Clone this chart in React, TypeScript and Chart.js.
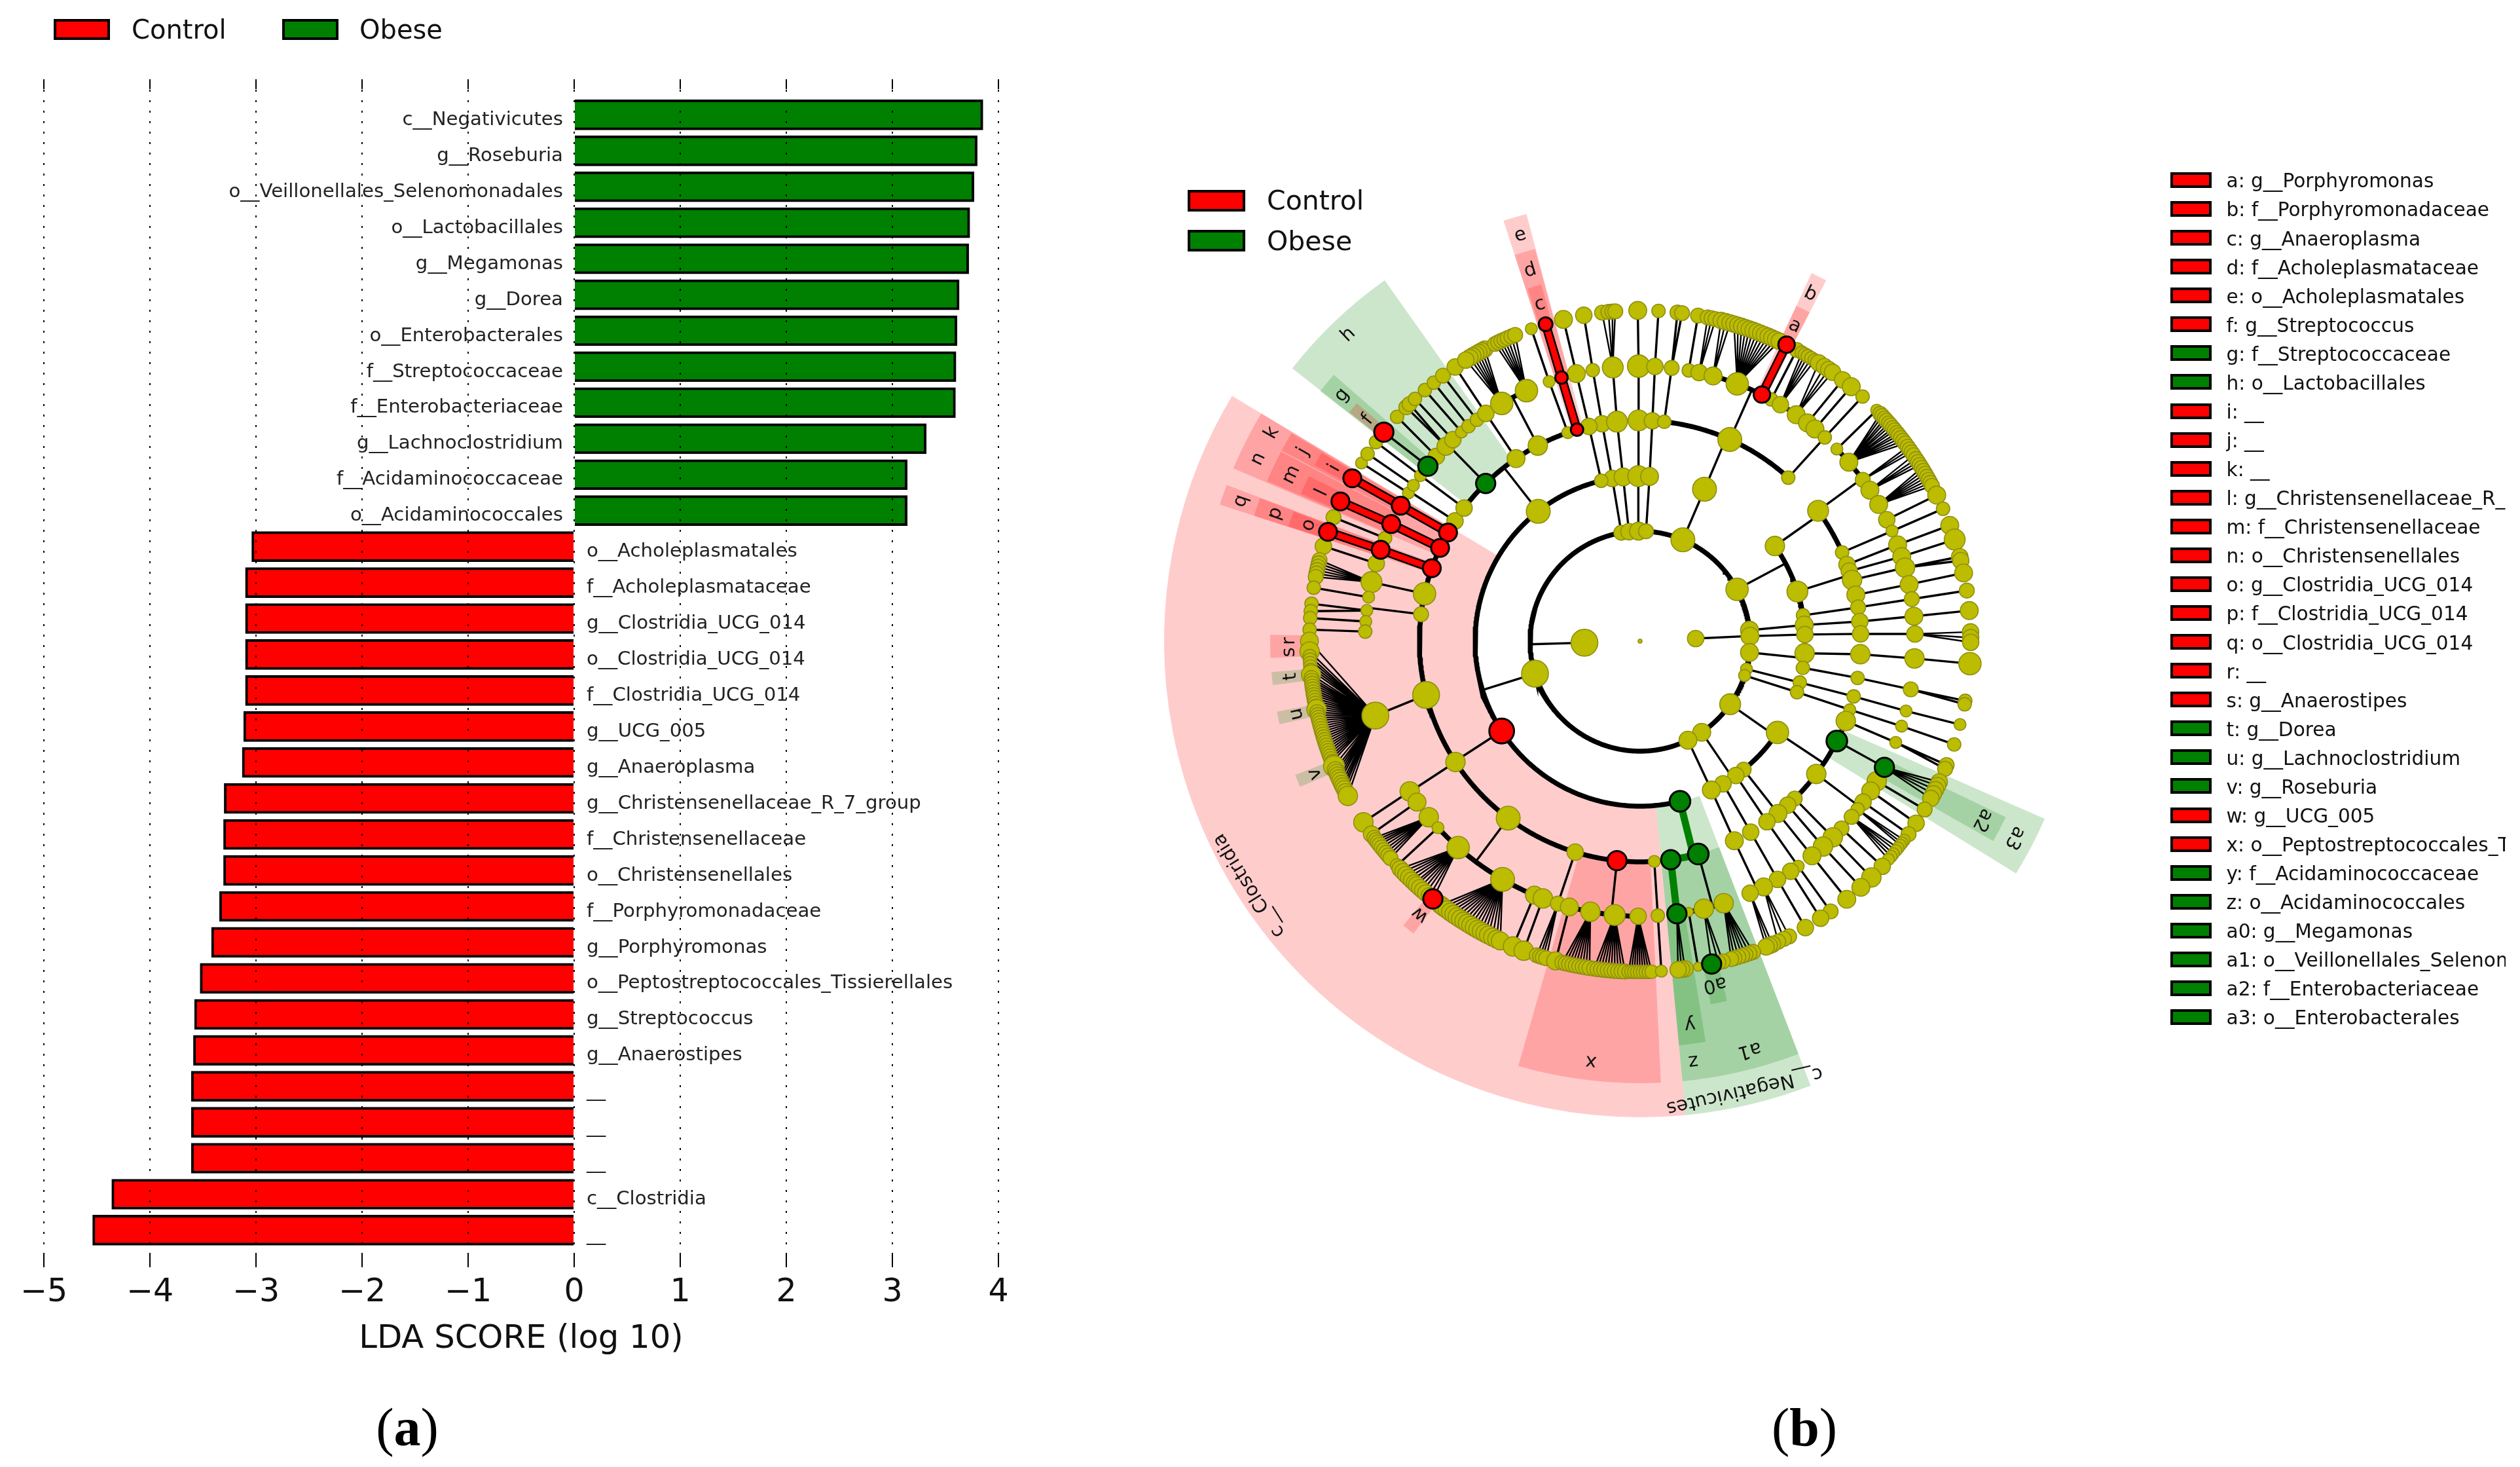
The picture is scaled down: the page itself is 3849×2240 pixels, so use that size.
import React, { useEffect, useRef } from "react";
import { Chart, registerables } from "chart.js";

Chart.register(...registerables);

// ---------- panel (a): LDA scores ----------
const obeseTaxa = ["c__Negativicutes","g__Roseburia","o__Veillonellales_Selenomonadales","o__Lactobacillales","g__Megamonas","g__Dorea","o__Enterobacterales","f__Streptococcaceae","f__Enterobacteriaceae","g__Lachnoclostridium","f__Acidaminococcaceae","o__Acidaminococcales"];
const obeseScores = [3.854,3.80,3.77,3.73,3.72,3.63,3.61,3.60,3.595,3.32,3.14,3.14];
const controlTaxa = ["o__Acholeplasmatales","f__Acholeplasmataceae","g__Clostridia_UCG_014","o__Clostridia_UCG_014","f__Clostridia_UCG_014","g__UCG_005","g__Anaeroplasma","g__Christensenellaceae_R_7_group","f__Christensenellaceae","o__Christensenellales","f__Porphyromonadaceae","g__Porphyromonas","o__Peptostreptococcales_Tissierellales","g__Streptococcus","g__Anaerostipes","__","__","__","c__Clostridia","__"];
const controlScores = [-3.04,-3.10,-3.10,-3.10,-3.10,-3.117,-3.13,-3.30,-3.306,-3.306,-3.344,-3.42,-3.527,-3.58,-3.59,-3.61,-3.61,-3.61,-4.36,-4.54];

// ---------- panel (b): legend keys ----------
const CONTROL = "Control";
const OBESE = "Obese";
const cladeKeys: [string, string][] = [
  ["a: g__Porphyromonas",CONTROL],["b: f__Porphyromonadaceae",CONTROL],["c: g__Anaeroplasma",CONTROL],["d: f__Acholeplasmataceae",CONTROL],["e: o__Acholeplasmatales",CONTROL],["f: g__Streptococcus",CONTROL],["g: f__Streptococcaceae",OBESE],["h: o__Lactobacillales",OBESE],["i: __",CONTROL],["j: __",CONTROL],["k: __",CONTROL],["l: g__Christensenellaceae_R_7_group",CONTROL],["m: f__Christensenellaceae",CONTROL],["n: o__Christensenellales",CONTROL],["o: g__Clostridia_UCG_014",CONTROL],["p: f__Clostridia_UCG_014",CONTROL],["q: o__Clostridia_UCG_014",CONTROL],["r: __",CONTROL],["s: g__Anaerostipes",CONTROL],["t: g__Dorea",OBESE],["u: g__Lachnoclostridium",OBESE],["v: g__Roseburia",OBESE],["w: g__UCG_005",CONTROL],["x: o__Peptostreptococcales_Tissierellales",CONTROL],["y: f__Acidaminococcaceae",OBESE],["z: o__Acidaminococcales",OBESE],["a0: g__Megamonas",OBESE],["a1: o__Veillonellales_Selenomonadales",OBESE],["a2: f__Enterobacteriaceae",OBESE],["a3: o__Enterobacterales",OBESE],
];

// clade shading: label, group, angle from, angle to (class entries also carry a label angle)
const classShades: [string,string,number,number,number][] = [
  ["c__Clostridia",CONTROL,149,275.5,212],
  ["c__Negativicutes",OBESE,275.5,291,283.1],
];
const orderShades: [string,string,number,number][] = [
  ["h",OBESE,125.3,141.9],["e",CONTROL,104.9,108],["k",CONTROL,149,152],["n",CONTROL,152,157],["q",CONTROL,159.3,162],["x",CONTROL,254,272.7],["z",OBESE,275.5,279],["a1",OBESE,279,291],["a3",OBESE,-31.7,-23.7],
];
const familyShades: [string,string,number,number][] = [
  ["b",CONTROL,62.7,65],["d",CONTROL,105,108],["g",OBESE,139,142],["j",CONTROL,149.2,152],["m",CONTROL,152.2,156.8],["p",CONTROL,159.4,162],["y",OBESE,275.5,279.3],["a2",OBESE,-29.5,-25.7],
];
const genusShades: [string,string,number,number][] = [
  ["a",CONTROL,62.7,65],["c",CONTROL,105.5,107.7],["f",CONTROL,140,141.8],["i",CONTROL,149.4,151.6],["l",CONTROL,153.5,156.5],["o",CONTROL,159.5,161.9],["r",CONTROL,179,181],["s",CONTROL,181,182.6],["t",OBESE,184.8,186.8],["u",OBESE,191,193],["v",OBESE,201.2,203.2],["w",CONTROL,230.2,232.2],["a0",OBESE,281,283.6],
];

// ---------- panel (b): taxonomy tree, [angle, node size, children, group, highlighted edge] ----------
type T = [number, number, T[]?, string?, string?];
const ls = (s: number, ...a: number[]): T[] => a.map((x) => [x, s] as T);
const ch = (a: number[], s: number[], tail?: T[], g?: string, hi?: boolean): T => {
  let kids = tail;
  for (let i = a.length - 1; i >= 0; i--) kids = [[a[i], s[i], kids, g, hi && i > 0 ? g : undefined]];
  return kids![0];
};

const proteoLike: T[] = [
  ch([-4.2,-3.4,-3.6,-3.9],[13,13,13,15]),
];
const lowerRightOrders: T[] = [
  ch([-21.2,-21.6],[13,8],ls(10,-22,-22.7)),
  [-26.9,15,[ch([-27.3],[14],ls(11,-25.2,-25.9,-26.7,-27.5,-28.4),OBESE)],OBESE],
  [-37,13,[
    ch([-30.6,-30.6],[13,10]),ch([-33,-33.4],[12,11]),ch([-35.8,-35.7],[11,10]),
    [-37.7,9,ls(8,-37,-37.6,-38.1)],[-39.7,10,ls(8,-38.7,-39.3,-40,-40.6,-41.3)],ch([-42.9,-42.9],[10,11]),
  ]],
  ch([-45.5,-45.5,-45.6],[10,13,13]),
  ch([-48,-48.3,-48.1],[11,13,12]),
];
const lowerRightClasses: T[] = [
  [-33.6,15,lowerRightOrders],
  ch([-51.1,-51.3,-51.3,-51.3],[10,12,12,12]),
];
const lowerBandClasses: T[] = [
  ch([-54.5,-54.9],[11,11],[ch([-54.9,-54.8],[8,10]),ch([-56.8,-56.9],[11,11])]),
  ch([-59.8,-59.9,-60,-60],[11,11,11,11]),
];

const phylumARight: T[] = [
  ch([99.8,99.7,99.9,99.9,99.8],[10,11,11,9,11]),
  ch([95.8,95.9,96,95.7],[11,12,14,14],ls(10,96.6,95.5,94.8,94.3)),
  ch([90.8,90.6,90.4,90.3,90.4],[12,14,14,15,12]),
  ch([86.9,86.7,86.8,86.9,86.8],[10,12,11,11,9]),
  [67.1,16,[[67,16,[
    ch([83.7,83.4],[9,10],ls(10,83.5,82.7)),
    [66,16,[
      ch([79.8,79.9],[9,10]),
      [77.6,11,ls(10,78.2,77.5,76.8)],
      [74.6,12,ls(11,75.8,75,74.2)],
      [69.3,15,ls(11,73.5,72.8,72.1,71.4,70.7,70,69.3,68.6,67.9,67.2,66.5,65.8,65.1)],
      ch([63.7,63.7],[12,12],undefined,CONTROL,true),
      ch([61.5,61.7],[9,10]),
      [59.3,11,ls(9,60.7,60.1,59.5,58.8,58.1)],
      [55.4,12,ls(11,57.3,56.1,55.2,54.4)],
      ch([52.5,52.2],[12,11]),
      ch([50.5,50.3],[12,12]),
    ]],
    ch([47.8,47.8,47.7],[9,9,9]),
  ]]]],
  [28.1,15,[
    [35.2,13,[[36.2,14,[
      ch([44.3],[8],ls(8,44.3)),
      [40.6,12,ls(10,43.4,42.9,42.3,41.8,41.2,40.7,40.1,39.6,39,38.5,37.9,37.3,36.7)],
      [35.9,10,ls(10,36,35.4,34.8)],
      [33.3,12,ls(10,34.2,33.4,32.8,32.2)],
      [29.8,12,ls(10,31.6,31,30.4,29.8,29.2,28.6,28)],
      ch([26.2,26.2],[11,12]),
    ]],
    ch([23.7,23.6,23.6],[9,8,9]),
    ]],
    [17.5,14,[
      ch([20.3,20.5,20.5],[11,12,12]),
      ch([18.5,17.9,17.9],[11,12,14]),
      ch([16.1,15.5],[13,13],ls(11,14.8,14.1)),
      ch([12.1,11.9,11.9],[12,12,12]),
    ]],
    ch([9,8.8,8.8,8.8],[9,10,10,10]),
  ]],
  ch([5.7,5.6,5.1,5.2,5.3],[12,12,11,12,12]),
  ch([2.6,2.3,1.9,1.5],[12,11,11,11],[[1.6,11],[0.6,11],[-0.2,11]]),
  [-5.9,12,[...proteoLike,
    ch([-9.3],[9],[ch([-9.6,-10.1],[9,10],ls(9,-10.4,-11))]),
  ]],
  ch([-14.7,-14.5,-14.5,-14.7,-14.6],[8,9,9,8,8]),
  ch([-18.2,-18,-18.1,-18,-18.2],[8,9,8,8,9]),
  [-35,14,lowerRightClasses],
  [-55.9,12,lowerBandClasses],
  ch([-64.2,-64.4,-64.7],[12,12,12],[ [-63.3,12,ls(10,-63.2,-64.2,-65.3)], [-66.4,11,ls(11,-66.4,-67,-67.6)] ]),
];

const upperLeftOrders: T[] = [
  [147,11,[ch([147.4,147.4],[8,8]),ch([145.5,145.5],[8,9])]],
  ch([142.9,143,143],[11,8,9]),
  [134.4,14,[
    [140.5,14,[[140.8,14,undefined,CONTROL]],OBESE],
    ch([137.8,137.3],[11,9]),[134.9,12,ls(10,135,134.2)],ch([132.9,132.9],[11,9]),ch([130.5,130.6],[8,9]),ch([128.6,128.6],[9,9]),ch([126.4,126.6],[9,10]),
  ],OBESE],
  ch([124.2,124.1,124],[12,11,11]),
  [117.6,13,[
    [120.2,15,ls(11,118,118.6,119.2,119.8,120.4,121,121.8)],
    [114.4,15,ls(10,116,115.4,114.8,114.2,113.6,112.9,112.2)],
  ]],
  ch([109.1,109.3,109.2],[8,8,8]),
  ch([106.6,106.6,106.6],[9,9,10],undefined,CONTROL,true),
];
const denseFan: T[] = [
  ...ls(12,180),...ls(13,181.8),
  ...ls(9,182.6,183.2,183.8,184.4,185),...ls(13,185.8),...ls(10,186.4,186.9,187.4,187.9,188.4,188.9,189.4,189.9,190.4,190.9,191.4),...ls(13,191.9),
  ...ls(10,192.4,192.9,193.4,193.9,194.4,194.9,195.4,195.9,196.4,196.9,197.4,197.9,198.4,198.9,199.4,199.9,200.4,200.9,201.4),...ls(14,202.2),
  ...ls(11,202.9,203.4,203.9,204.4,204.9,205.5,206,206.5,207.1),...ls(13,207.9),
];
const clostridiaOrders: T[] = [
  ch([150.5,150.5,150.5],[13,13,13],undefined,CONTROL,true),
  ch([155,154.8,155],[13,13,13],undefined,CONTROL,true),
  ch([160.7,160.6,160.7],[13,13,13],undefined,CONTROL,true),
  [167.6,15,[
    ch([158,158],[9,10]),ch([163.6,163.3],[11,11]),
    [167.6,14,ls(10,165.8,166.4,167,167.6,168.2,168.8)],ch([170.8,170.7],[8,9]),
  ]],
  [173,10,[[173.6,8,ls(9,173.5,174.8)],ch([175.9,176],[8,9]),ch([178,178],[9,9])]],
  [194.1,18,[[195.7,18,denseFan]]],
  [213.2,13,[ch([213.1,213.2],[13,13]),ch([215.8,215.7],[12,11])]],
  [233.3,16,[
    [219.8,13,ls(10,216.5,217,217.5,218,218.6,219.2,219.8,220.4,221)],
    ch([222.7,222.7],[8,9]),
    [228.6,15,[...ls(11,223.5,224.2,224.9,225.6,226.3,227,227.5,228.2,228.9,229.6,230.4),[231.2,14,undefined,CONTROL]]],
    [240,16,ls(12,232.9,233.6,234.3,235,235.7,236.4,237.1,237.8,238.5,239.2,239.9,240.6,241.3,242,242.7,243.5,244.3,245)],
    ch([247.4,247.4],[12,13]),ch([249.3,249.4],[13,13]),
  ]],
  [252.9,11,[[252.6,10,ls(10,251.8,252.4,252.9,253.5)]]],
  [264,14,[
    ch([255.1,255.2],[12,12]),
    [259.6,13,ls(10,256.4,257,257.6,258.2,258.8,259.4,260,260.6,261.2)],
    [264.7,14,ls(10,262,262.6,263.2,263.8,264.4,265,265.6,266.2,266.8,267.4)],
    [269.6,11,ls(9,268,268.5,269,269.5,270,270.5,271,271.5,272)],
  ],CONTROL],
  ch([273.7,273.7,273.7],[8,9,8]),
];
const negativicutesOrders: T[] = [
  [278,14,[[277.7,14,ls(11,277.8,277.2,276.6),OBESE,OBESE]],OBESE,OBESE],
  [285.3,15,[
    [287.7,13,ls(10,290,289.3,288.6,288,287.3,286.6,286)],
    [283.4,13,[[284.5,10],[283.7,10],[282.5,14,undefined,OBESE]]],
    ch([280.2,280.1],[6,6]),
  ],OBESE,OBESE],
];
const phylumBClasses: T[] = [
  ch([103.6,103.4,103.4,103.4],[9,11,12,12]),
  [128.1,16,upperLeftOrders],
  [213,18,clostridiaOrders,CONTROL],
  [284,15,negativicutesOrders,OBESE],
];
const phyla: T[] = [
  [2.7,11,phylumARight],
  [181.6,18,[[197.2,18,phylumBClasses]]],
];
// further stretches of the thick rings: depth, angle from, angle to
const ringArcs: [number,number,number][] = [[2,99.8,295.8],[3,17.5,2.6]];

const ringRadius = [0,85,168,252,337,420,505];
const RED = "#ff0000", GREEN = "#008000", YEL = "#bcbc00";
const colorOf = (g?: string) => (g === CONTROL ? RED : g === OBESE ? GREEN : YEL);
const polar = (r: number, deg: number) => {
  const t = (deg * Math.PI) / 180;
  return { x: r * Math.cos(t), y: r * Math.sin(t) };
};
const GAP = { x: NaN, y: NaN };

function buildCladogram() {
  const thin: any[] = [], fan: any[] = [], arcs: any[] = [], hiR: any[] = [], hiG: any[] = [];
  const yellow: any[] = [{ ...polar(0, 0), r: 3, c: YEL }], marked: any[] = [];
  const arc = (out: any[], r: number, a0: number, a1: number) => {
    const lo = Math.min(a0, a1), hi = Math.max(a0, a1), n = Math.max(1, Math.ceil((hi - lo) / 0.5));
    for (let i = 0; i <= n; i++) out.push(polar(r, lo + ((hi - lo) * i) / n));
    out.push(GAP);
  };
  const walk = (n: T, depth: number) => {
    const [a, s, kids, g] = n;
    const p = polar(ringRadius[depth], a);
    (g ? marked : yellow).push({ ...p, r: s * (g ? 1.05 : 1.14), c: colorOf(g) });
    if (!kids) return;
    const useArc = depth <= 4 && (kids.length > 1 || depth === 1);
    if (useArc) {
      const angs = kids.map((k) => k[0]);
      const rc = ringRadius[depth + 1];
      const allHi = kids.every((k) => k[4]);
      const tgt = allHi ? (kids[0][4] === CONTROL ? hiR : hiG) : arcs;
      arc(tgt, rc, Math.min(...angs), Math.max(...angs));
      (allHi ? tgt : thin).push(p, polar(rc, a), GAP);
    } else {
      for (const k of kids) {
        const q = polar(ringRadius[depth + 1], k[0]);
        const tgt = k[4] ? (k[4] === CONTROL ? hiR : hiG) : depth >= 5 && kids.length > 2 ? fan : thin;
        tgt.push(p, q, GAP);
      }
    }
    kids.forEach((k) => walk(k, depth + 1));
  };
  phyla.forEach((n) => walk(n, 1));
  ringArcs.forEach(([d, a0, a1]) => arc(arcs, ringRadius[d], a0, a1));
  return { thin, fan, arcs, hiR, hiG, yellow, marked };
}

const sectorPlugin = {
  id: "sectors",
  beforeDatasetsDraw(chart: any) {
    const { ctx, scales } = chart;
    const cx = scales.x.getPixelForValue(0), cy = scales.y.getPixelForValue(0);
    const k = scales.x.getPixelForValue(1) - cx;
    const band = (g: string, r0: number, r1: number, a0: number, a1: number) => {
      ctx.beginPath();
      ctx.arc(cx, cy, r1 * k, (-a1 * Math.PI) / 180, (-a0 * Math.PI) / 180);
      ctx.arc(cx, cy, r0 * k, (-a0 * Math.PI) / 180, (-a1 * Math.PI) / 180, true);
      ctx.closePath();
      ctx.fillStyle = g === CONTROL ? "rgba(255,0,0,0.2)" : "rgba(0,128,0,0.2)";
      ctx.fill();
    };
    classShades.forEach(([, g, a0, a1]) => band(g, 253, 727, a0, a1));
    orderShades.forEach(([, g, a0, a1]) => band(g, 337, 675, a0, a1));
    familyShades.forEach(([, g, a0, a1]) => band(g, 420, 620, a0, a1));
    genusShades.forEach(([, g, a0, a1]) => band(g, 505, 565, a0, a1));
  },
  afterDatasetsDraw(chart: any) {
    const { ctx, scales } = chart;
    const cx = scales.x.getPixelForValue(0), cy = scales.y.getPixelForValue(0);
    const k = scales.x.getPixelForValue(1) - cx;
    const put = (txt: string, r: number, a: number) => {
      const t = (a * Math.PI) / 180;
      ctx.save();
      ctx.translate(cx + r * k * Math.cos(t), cy - r * k * Math.sin(t));
      ctx.rotate(((90 - a) * Math.PI) / 180);
      ctx.font = '29px "DejaVu Sans"';
      ctx.fillStyle = "#111";
      ctx.textAlign = "center";
      ctx.textBaseline = "middle";
      ctx.fillText(txt, 0, 0);
      ctx.restore();
    };
    classShades.forEach(([l, , , , la]) => put(l, 704, la));
    orderShades.forEach(([l, , a0, a1]) => put(l, 646, (a0 + a1) / 2));
    familyShades.forEach(([l, , a0, a1]) => put(l, 590, (a0 + a1) / 2));
    genusShades.forEach(([l, , a0, a1]) => put(l, 536, (a0 + a1) / 2));
  },
};

const barDecor = {
  id: "barDecor",
  afterDraw(chart: any) {
    const { ctx, scales, chartArea } = chart;
    ctx.save();
    ctx.strokeStyle = "#000";
    ctx.lineWidth = 2;
    scales.x.ticks.forEach((t: any) => {
      const x = scales.x.getPixelForValue(t.value);
      ctx.beginPath();
      ctx.moveTo(x, chartArea.top);
      ctx.lineTo(x, chartArea.top + 15);
      ctx.moveTo(x, chartArea.bottom);
      ctx.lineTo(x, chartArea.bottom - 22);
      ctx.stroke();
    });
    ctx.font = '29.2px "DejaVu Sans"';
    ctx.fillStyle = "#222";
    ctx.textBaseline = "middle";
    const x0 = scales.x.getPixelForValue(0);
    ctx.textAlign = "right";
    obeseTaxa.forEach((l, i) => ctx.fillText(l, x0 - 17, scales.y.getPixelForValue(i) + 8));
    ctx.textAlign = "left";
    controlTaxa.forEach((l, i) => ctx.fillText(l, x0 + 19, scales.y.getPixelForValue(i + obeseTaxa.length) + 8));
    ctx.restore();
  },
};

const swatch = (left: number, top: number, w: number, h: number, color: string, bw = 4): React.CSSProperties => ({
  position: "absolute", left, top, width: w, height: h, background: color, border: `${bw}px solid #000`, boxSizing: "border-box",
});
const label = (left: number, cy: number, size: number): React.CSSProperties => ({
  position: "absolute", left, top: cy - size, lineHeight: `${size * 2}px`, fontSize: size, fontFamily: '"DejaVu Sans"', color: "#111", whiteSpace: "nowrap",
});

export default function App() {
  const barRef = useRef<HTMLCanvasElement>(null);
  const cladeRef = useRef<HTMLCanvasElement>(null);

  useEffect(() => {
    const bars = new Chart(barRef.current!, {
      type: "bar",
      data: {
        datasets: [
          { label: OBESE, data: obeseScores.map((v, i) => ({ x: v, y: i })), backgroundColor: GREEN, borderColor: "#000", borderWidth: 4, barThickness: 46, grouped: false } as any,
          { label: CONTROL, data: controlScores.map((v, i) => ({ x: v, y: i + obeseScores.length })), backgroundColor: RED, borderColor: "#000", borderWidth: 4, barThickness: 46, grouped: false } as any,
        ],
      },
      options: {
        indexAxis: "y",
        responsive: false,
        animation: false,
        devicePixelRatio: 1,
        layout: { autoPadding: false, padding: { left: 67, right: 115, top: 121, bottom: 165 } },
        plugins: { legend: { display: false }, tooltip: { enabled: false } },
        scales: {
          x: {
            type: "linear", min: -5, max: 4,
            ticks: { stepSize: 1, padding: 10, color: "#111", font: { size: 49, family: '"DejaVu Sans"' }, callback: (v: any) => (v < 0 ? "\u2212" + -v : String(v)), maxRotation: 0 },
            grid: { color: "#000", lineWidth: 2, z: 1, drawTicks: false },
            border: { display: false, dash: [3, 13] },
            title: { display: true, text: "LDA SCORE (log 10)", color: "#111", font: { size: 49.7, family: '"DejaVu Sans"' }, padding: { top: 0, bottom: 0 } },
            afterFit: (s: any) => { s.height = 140; },
          },
          y: { type: "linear", reverse: true, offset: false, min: -0.99, max: 32.03, display: false },
        },
      } as any,
      plugins: [barDecor],
    });

    const d = buildCladogram();
    const lineSet = (data: any[], w: number, color: string, order: number) => ({
      type: "scatter", data, showLine: true, borderColor: color, borderWidth: w, pointRadius: 0, order, spanGaps: false, borderCapStyle: "butt", fill: false,
    });
    const pointSet = (data: any[], order: number, bw: number, edge: any) => ({
      type: "scatter", data, showLine: false, order,
      pointRadius: data.map((p) => p.r), pointHoverRadius: data.map((p) => p.r),
      backgroundColor: data.map((p) => p.c), pointBackgroundColor: data.map((p) => p.c),
      pointBorderColor: edge, pointBorderWidth: bw,
    });
    const clade = new Chart(cladeRef.current!, {
      type: "scatter",
      data: {
        datasets: [
          lineSet(d.thin, 3.4, "#000", 8),
          lineSet(d.fan, 2.4, "#000", 8),
          lineSet(d.arcs, 7.5, "#000", 7),
          lineSet(d.hiR, 14, "#000", 6),
          lineSet(d.hiR, 9, RED, 5),
          lineSet(d.hiG, 11, GREEN, 5),
          pointSet(d.yellow, 3, 1.6, "#8f8f10"),
          pointSet(d.marked, 2, 3, "#000"),
        ] as any,
      },
      options: {
        responsive: false,
        animation: false,
        devicePixelRatio: 1,
        layout: { autoPadding: false, padding: 0 },
        plugins: { legend: { display: false }, tooltip: { enabled: false } },
        scales: {
          x: { type: "linear", min: -800, max: 800, display: false },
          y: { type: "linear", min: -800, max: 800, display: false },
        },
      } as any,
      plugins: [sectorPlugin],
    });
    return () => {
      bars.destroy();
      clade.destroy();
    };
  }, []);

  return (
    <div style={{ position: "absolute", left: 0, top: 0, width: 3849, height: 2240, background: "#fff", overflow: "hidden" }}>
      <canvas ref={barRef} width={1640} height={2240} style={{ position: "absolute", left: 0, top: 0 }} />
      <canvas ref={cladeRef} width={1600} height={1600} style={{ position: "absolute", left: 1705, top: 179 }} />

      <div style={swatch(82, 29, 86, 32, RED)} />
      <div style={label(201, 45, 40)}>{CONTROL}</div>
      <div style={swatch(431, 29, 86, 32, GREEN)} />
      <div style={label(549, 45, 40)}>{OBESE}</div>

      <div style={swatch(1814, 290, 88, 33, RED)} />
      <div style={label(1935, 306, 41)}>{CONTROL}</div>
      <div style={swatch(1814, 351, 88, 33, GREEN)} />
      <div style={label(1935, 368, 41)}>{OBESE}</div>

      <div style={{ position: "absolute", left: 3300, top: 240, width: 527, height: 1350, overflow: "hidden" }}>
        {cladeKeys.map(([t, g], i) => (
          <React.Fragment key={t}>
            <div style={swatch(15, 23 + i * 44.07, 63, 24, g === CONTROL ? RED : GREEN)} />
            <div style={label(100.5, 37 + i * 44.07, 29.6)}>{t}</div>
          </React.Fragment>
        ))}
      </div>

      <div style={{ position: "absolute", left: 522, width: 200, top: 2130, textAlign: "center", fontFamily: '"Liberation Serif"', fontSize: 82, lineHeight: "100px", color: "#000" }}>
        (<b>a</b>)
      </div>
      <div style={{ position: "absolute", left: 2656, width: 200, top: 2130, textAlign: "center", fontFamily: '"Liberation Serif"', fontSize: 82, lineHeight: "100px", color: "#000" }}>
        (<b>b</b>)
      </div>
    </div>
  );
}
